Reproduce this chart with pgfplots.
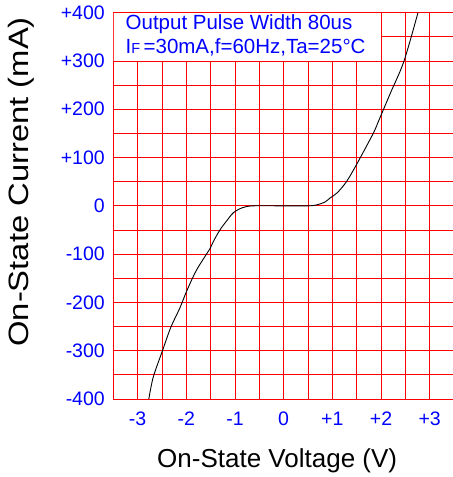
\documentclass[border=0pt]{standalone}
\usepackage{fontspec}
\setmainfont{Liberation Sans}
\usepackage{pgfplots}
\pgfplotsset{compat=1.18}
\definecolor{gridred}{RGB}{255,0,0}
\definecolor{tickblue}{RGB}{0,0,255}
\begin{document}
\begin{tikzpicture}
\begin{axis}[
 scale only axis, width=340.7bp, height=386.3bp,
 xmin=-3.5, xmax=3.5, ymin=-400, ymax=400,
 xtick={-3,-2,-1,0,1,2,3}, xticklabels={-3,-2,-1,0,+1,+2,+3},
 minor xtick={-2.5,-1.5,-0.5,0.5,1.5,2.5},
 ytick={-400,-300,...,400},
 yticklabels={-400,-300,-200,-100,0,+100,+200,+300,+400},
 minor ytick={-350,-250,...,350},
 grid=both,
 major grid style={gridred, line width=0.9bp},
 minor grid style={gridred, line width=0.9bp},
 major tick length=0pt, minor tick length=0pt,
 axis line style={gridred, line width=0.9bp},
 tick label style={text=tickblue, font=\fontsize{19.5bp}{22bp}\selectfont},
 xticklabel style={yshift=-9.5bp},
 yticklabel style={xshift=-5bp},
 xlabel={On-State Voltage (V)},
 ylabel={\scalebox{1.17}[1]{On-State Current (mA)}},
 xlabel style={font=\fontsize{26bp}{30bp}\selectfont, at={(axis description cs:0.481,0)}, anchor=base, yshift=-68bp},
 ylabel style={font=\fontsize{28bp}{30bp}\selectfont, at={(axis description cs:-0.2495,0.562)}, anchor=base},
 clip=true,
]
\fill[white] (axis cs:-3.5,300) rectangle (axis cs:2,400);
\draw[gridred, line width=0.9bp] (axis cs:-3.5,300) rectangle (axis cs:2,400);
\addplot[black, line width=0.9bp, smooth, tension=0.5] coordinates {
(-2.77,-400) (-2.68,-355) (-2.49,-300) (-2.32,-252) (-2.13,-211) (-1.99,-176)
(-1.79,-133) (-1.51,-88) (-1.445,-74) (-1.31,-50) (-1.17,-31) (-1.03,-14) (-0.85,-4)
(-0.63,0) (0,0) (0.5,0) (0.68,2) (0.85,8) (0.95,16) (1.1,27) (1.29,50)
(1.5,86) (1.84,150) (1.96,178) (2.2,235) (2.47,299) (2.76,400)
};
\node[anchor=base west, inner sep=0pt, text=tickblue, font=\fontsize{20.5bp}{24bp}\selectfont]
  at (axis cs:-3.25,364.8) {Output Pulse Width 80us};
\node[anchor=base west, inner sep=0pt, text=tickblue, font=\fontsize{20.5bp}{24bp}\selectfont]
  at (axis cs:-3.25,314.5) {I{\fontsize{14.5bp}{16bp}\selectfont F}\,=30mA,f=60Hz,Ta=25°C};
\coordinate (LL) at (rel axis cs:0,0);
\end{axis}
\pgfresetboundingbox
\path[use as bounding box] (LL) ++(-113.3bp,-78bp) rectangle ++(453bp,477bp);
\end{tikzpicture}
\end{document}
